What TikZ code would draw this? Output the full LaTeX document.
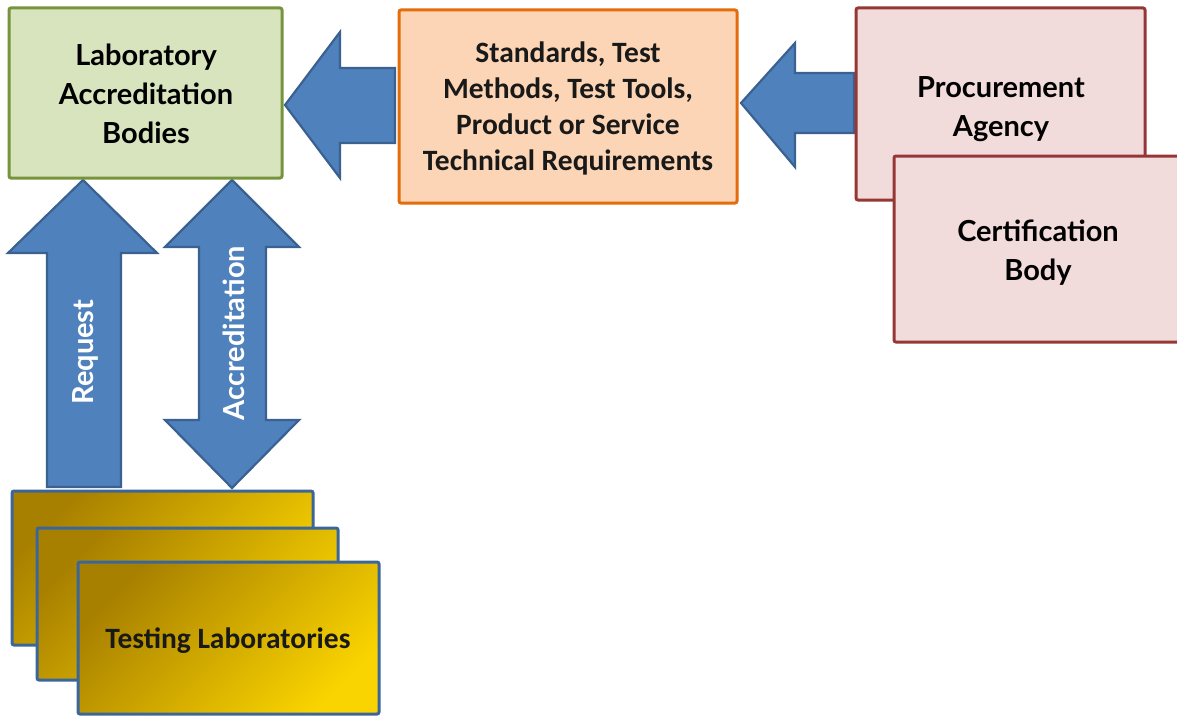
\documentclass[tikz,border=0pt]{standalone}
\usepackage{fontspec}
\setmainfont{Carlito}
\newfontfamily\tw{Lato}
\usetikzlibrary{positioning}
\definecolor{arrfill}{HTML}{4F81BD}
\definecolor{arrline}{HTML}{3A6190}
\definecolor{grfill}{HTML}{D7E4BD}
\definecolor{grline}{HTML}{77933C}
\definecolor{orfill}{HTML}{FBD5B5}
\definecolor{orline}{HTML}{E46C0A}
\definecolor{pkfill}{HTML}{F2DCDB}
\definecolor{pkline}{HTML}{953735}
\definecolor{golddark}{HTML}{A88000}
\definecolor{goldlight}{HTML}{FAD400}
\definecolor{labline}{HTML}{3B669A}
\tikzset{
  blockarrow/.style={fill=arrfill, draw=arrline, line width=2.2pt, line join=miter},
  boxbase/.style={rounded corners=2pt, line width=3pt},
  greenbox/.style={boxbase, fill=grfill, draw=grline},
  orangebox/.style={boxbase, fill=orfill, draw=orline},
  pinkbox/.style={boxbase, fill=pkfill, draw=pkline},
  labbox/.style={boxbase, draw=labline, top color=golddark, bottom color=goldlight, shading angle=45},
  twtext/.style={font=\tw\bfseries\fontsize{29}{39}\selectfont, align=center, text=black},
  cbtext/.style={font=\bfseries\fontsize{29.5}{36}\selectfont, align=center, text=black!90},
  arrtext/.style={font=\tw\bfseries\fontsize{29}{30}\selectfont, text=white, rotate=90}
}
\begin{document}
\begin{tikzpicture}[x=1pt,y=-1pt]
\useasboundingbox (0,0) rectangle (1177,717);
% arrows
\draw[blockarrow] (285,105) -- (340,32) -- (340,68) -- (395,68) -- (395,143) -- (340,143) -- (340,178) -- cycle;
\draw[blockarrow] (741,103) -- (795,43) -- (795,73) -- (854,73) -- (854,133) -- (795,133) -- (795,167) -- cycle;
\draw[blockarrow] (83,180) -- (157,253) -- (121,253) -- (121,487) -- (47,487) -- (47,253) -- (8,253) -- cycle;
\draw[blockarrow] (232,180) -- (299,247) -- (266,247) -- (266,420) -- (299,420) -- (232,488) -- (165,420) -- (199,420) -- (199,247) -- (165,247) -- cycle;
\node[arrtext] (req) at (85,352) {Request};
\node[arrtext] (acc) at (234,333) {Accreditation};
% boxes
\draw[greenbox] (9,8) rectangle (282,178);
\node[twtext] (lab) at (146,94) {Laboratory\\Accreditation\\Bodies};
\draw[orangebox] (399,10) rectangle (737,203);
\node[cbtext] (std) at (568,108) {Standards, Test\\Methods, Test Tools,\\Product or Service\\Technical Requirements};
\draw[pinkbox] (856,8) rectangle (1145,200);
\node[twtext] (proc) at (1001,109) {Procurement\\Agency};
\draw[pinkbox] (894,156) rectangle (1180,342);
\node[twtext] (cert) at (1038,253) {Certification\\Body};
\draw[labbox] (12,491) rectangle (313,645);
\draw[labbox] (37,528) rectangle (338,680);
\draw[labbox] (78,562) rectangle (379,714);
\node[cbtext, font=\bfseries\fontsize{29.5}{30}\selectfont] (tl) at (228,641) {Testing Laboratories};
\end{tikzpicture}
\end{document}
